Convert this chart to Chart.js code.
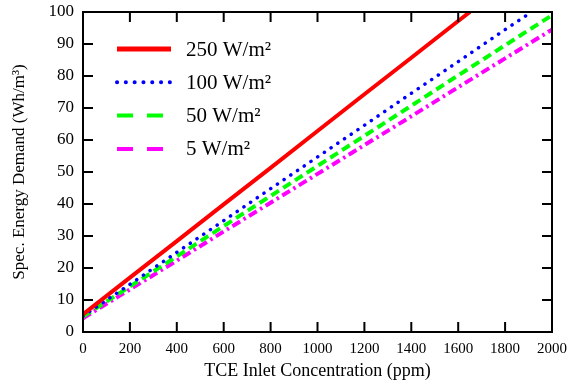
<!DOCTYPE html>
<html>
<head>
<meta charset="utf-8" />
<title>Spec. Energy Demand</title>
<script src="https://cdn.jsdelivr.net/npm/chart.js@4.4.0/dist/chart.umd.min.js"></script>
<style>
  html, body { margin: 0; padding: 0; background: #fff; }
  #wrap { width: 575px; height: 385px; }
</style>
</head>
<body>
<div id="wrap"><canvas id="energy-chart" width="575" height="385"></canvas></div>
<script>
// readings (x in ppm, y in Wh/m3)
var conc250 = [0, 200, 400, 600, 800, 1000, 1200, 1400, 1600, 1650];
var demand250 = [5.5, 17, 28.4, 39.9, 51.3, 62.8, 74.3, 85.7, 97.2, 100];

var conc100 = [0, 200, 400, 600, 800, 1000, 1200, 1400, 1600, 1800, 1913];
var demand100 = [5, 14.9, 24.9, 34.8, 44.8, 54.7, 64.6, 74.6, 84.5, 94.5, 100];

var conc50 = [0, 200, 400, 600, 800, 1000, 1200, 1400, 1600, 1800, 2000];
var demand50 = [4.8, 14.2, 23.6, 33.1, 42.5, 51.9, 61.3, 70.7, 80.2, 89.6, 99];

var conc5 = [0, 200, 400, 600, 800, 1000, 1200, 1400, 1600, 1800, 2000];
var demand5 = [4.3, 13.3, 22.3, 31.4, 40.4, 49.4, 58.4, 67.4, 76.5, 85.5, 94.5];

var seriesLabels = ['250 W/m\u00b2', '100 W/m\u00b2', '50 W/m\u00b2', '5 W/m\u00b2'];

function pts(xs, ys) {
    var out = [];
    for (var i = 0; i < xs.length; i++) out.push({x: xs[i], y: ys[i]});
    return out;
}

var serif = "'Liberation Serif', 'Times New Roman', serif";

// frame, inward tick marks and the legend inside the plot
var framePlugin = {
    id: 'frame',
    afterDatasetsDraw: function(chart) {
        var ctx = chart.ctx, a = chart.chartArea;
        var xs = chart.scales.x, ys = chart.scales.y;
        ctx.save();
        ctx.strokeStyle = '#000';
        ctx.lineWidth = 2;
        ctx.strokeRect(a.left, a.top, a.right - a.left, a.bottom - a.top);
        ctx.beginPath();
        for (var v = 200; v < 2000; v += 200) {
            var px = xs.getPixelForValue(v);
            ctx.moveTo(px, a.bottom); ctx.lineTo(px, a.bottom - 10);
            ctx.moveTo(px, a.top); ctx.lineTo(px, a.top + 10);
        }
        for (var w = 10; w < 100; w += 10) {
            var py = ys.getPixelForValue(w);
            ctx.moveTo(a.left, py); ctx.lineTo(a.left + 10, py);
            ctx.moveTo(a.right, py); ctx.lineTo(a.right - 10, py);
        }
        ctx.stroke();

        // legend
        var ds = chart.data.datasets;
        ctx.font = '21px ' + serif;
        ctx.textBaseline = 'middle';
        ctx.fillStyle = '#000';
        for (var i = 0; i < ds.length; i++) {
            var y = 49 + i * 33.3;
            ctx.beginPath();
            ctx.strokeStyle = ds[i].borderColor;
            ctx.lineWidth = ds[i].legendWidth;
            ctx.lineCap = ds[i].legendCap;
            ctx.setLineDash(ds[i].legendDash);
            ctx.moveTo(117, y); ctx.lineTo(171, y);
            ctx.stroke();
            ctx.setLineDash([]);
            ctx.fillText(ds[i].label, 186, y + 1);
        }
        ctx.restore();
    }
};

new Chart(document.getElementById('energy-chart'), {
    type: 'line',
    data: {
        datasets: [
            { label: seriesLabels[0], data: pts(conc250, demand250), borderColor: '#ff0000',
              borderWidth: 4, legendWidth: 5, legendCap: 'butt', legendDash: [] },
            { label: seriesLabels[1], data: pts(conc100, demand100), borderColor: '#0000ff',
              borderWidth: 3.5, borderDash: [0.1, 8], borderCapStyle: 'round',
              legendWidth: 4, legendCap: 'round', legendDash: [0.1, 8.7] },
            { label: seriesLabels[2], data: pts(conc50, demand50), borderColor: '#00ff00',
              borderWidth: 4, borderDash: [9, 5],
              legendWidth: 4, legendCap: 'butt', legendDash: [16, 14] },
            { label: seriesLabels[3], data: pts(conc5, demand5), borderColor: '#ff00ff',
              borderWidth: 4, borderDash: [9, 4, 2.5, 4],
              legendWidth: 4, legendCap: 'butt', legendDash: [16, 14] }
        ]
    },
    options: {
        responsive: false,
        animation: false,
        layout: { padding: { top: 12, right: 23, left: 0, bottom: 0 } },
        elements: { point: { radius: 0 }, line: { tension: 0, fill: false } },
        plugins: {
            legend: { display: false },
            tooltip: { enabled: false }
        },
        scales: {
            x: {
                type: 'linear', min: 0, max: 2000,
                ticks: { stepSize: 200, color: '#000', padding: 8, maxRotation: 0,
                         callback: function(v) { return String(v); },
                         font: { family: serif, size: 15 } },
                grid: { display: false, drawTicks: false },
                border: { display: false },
                title: { display: true, text: 'TCE Inlet Concentration (ppm)', color: '#000',
                         padding: { top: 0, bottom: 3 }, font: { family: serif, size: 18 } },
                afterFit: function(s) { s.height = 53; s.paddingLeft = 0; s.paddingRight = 0; }
            },
            y: {
                min: 0, max: 100,
                ticks: { stepSize: 10, color: '#000', padding: 9,
                         font: { family: serif, size: 17 } },
                grid: { display: false, drawTicks: false },
                border: { display: false },
                title: { display: true, text: 'Spec. Energy Demand (Wh/m\u00b3)', color: '#000',
                         padding: { top: 9, bottom: 0 }, font: { family: serif, size: 17 } },
                afterFit: function(s) { s.width = 83; s.paddingTop = 0; s.paddingBottom = 0; }
            }
        }
    },
    plugins: [framePlugin]
});
</script>
</body>
</html>
